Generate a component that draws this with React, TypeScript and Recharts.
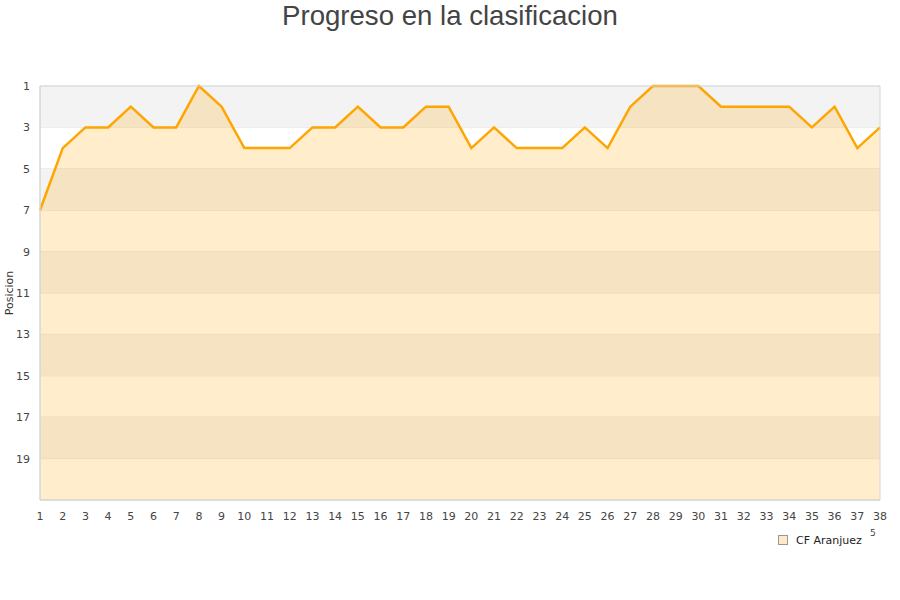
import {
  AreaChart,
  Area,
  XAxis,
  YAxis,
  CartesianGrid,
  ReferenceArea,
  Legend,
} from "recharts";

// Jornadas and league position of the team
const jornadas = [
  1, 2, 3, 4, 5, 6, 7, 8, 9, 10, 11, 12, 13, 14, 15, 16, 17, 18, 19, 20, 21,
  22, 23, 24, 25, 26, 27, 28, 29, 30, 31, 32, 33, 34, 35, 36, 37, 38,
];
const posiciones = [
  7, 4, 3, 3, 2, 3, 3, 1, 2, 4, 4, 4, 3, 3, 2, 3, 3, 2, 2, 4, 3, 4, 4, 4, 3,
  4, 2, 1, 1, 1, 2, 2, 2, 2, 3, 2, 4, 3,
];
const yTicks = [1, 3, 5, 7, 9, 11, 13, 15, 17, 19];
const bandas = [
  [1, 3],
  [5, 7],
  [9, 11],
  [13, 15],
  [17, 19],
];
const equipo = "CF Aranjuez";
const titulo = "Progreso en la clasificacion";

const data = jornadas.map((j, i) => ({ jornada: j, pos: posiciones[i] }));

const TICK = { fontSize: 11, fill: "#444", fontFamily: "DejaVu Sans" };

function LegendBox() {
  return (
    <div
      style={{
        display: "inline-flex",
        alignItems: "center",
        fontFamily: "DejaVu Sans",
        fontSize: 11,
        color: "#222",
        position: "relative",
      }}
    >
      <span
        style={{
          width: 8,
          height: 8,
          background: "#fdebc8",
          border: "1px solid #999",
          marginRight: 8,
          display: "inline-block",
        }}
      />
      {equipo}
      <span
        style={{
          position: "absolute",
          right: -14,
          top: -6,
          fontSize: 9,
          color: "#444",
        }}
      >
        5
      </span>
    </div>
  );
}

export default function App() {
  return (
    <div
      style={{
        position: "absolute",
        left: 0,
        top: 0,
        width: 900,
        height: 600,
        background: "#fff",
      }}
    >
      <div
        style={{
          position: "absolute",
          top: 0,
          width: 900,
          textAlign: "center",
          fontFamily: "Liberation Sans, Arial, sans-serif",
          fontSize: 27.6,
          color: "#444",
          lineHeight: "32px",
        }}
      >
        {titulo}
      </div>
      <AreaChart
        width={900}
        height={600}
        data={data}
        margin={{ top: 86, right: 20, bottom: 54, left: 0 }}
      >
        {bandas.map(([a, b]) => (
          <ReferenceArea
            key={a}
            x1={1}
            x2={38}
            y1={a}
            y2={b}
            fill="#f3f3f3"
            fillOpacity={1}
            ifOverflow="hidden"
          />
        ))}
        <CartesianGrid vertical={false} stroke="#e3e3e3" strokeWidth={1} />
        <XAxis
          dataKey="jornada"
          type="number"
          domain={[1, 38]}
          ticks={jornadas}
          interval={0}
          tick={TICK}
          tickLine={false}
          axisLine={{ stroke: "#d6d6d6" }}
          height={30}
          tickMargin={6}
        />
        <YAxis
          type="number"
          reversed
          domain={[1, 21]}
          ticks={yTicks}
          interval={0}
          tick={TICK}
          tickLine={false}
          axisLine={{ stroke: "#d6d6d6" }}
          width={40}
          tickMargin={4}
          label={{
            value: "Posicion",
            angle: -90,
            position: "insideLeft",
            offset: 9,
            style: { fontSize: 11, fill: "#333", fontFamily: "DejaVu Sans", textAnchor: "middle" },
          }}
        />
        <Area
          type="linear"
          dataKey="pos"
          name={equipo}
          baseValue={21}
          stroke="#ffa500"
          strokeWidth={2.5}
          fill="#ffa500"
          fillOpacity={0.2}
          dot={false}
          activeDot={false}
          isAnimationActive={false}
        />
        <ReferenceArea
          x1={1}
          x2={38}
          y1={1}
          y2={21}
          fill="none"
          stroke="#d6d6d6"
          strokeWidth={1}
        />
        <Legend
          content={() => <LegendBox />}
          wrapperStyle={{ position: "absolute", left: 778, top: 531, width: 110, height: 16 }}
        />
      </AreaChart>
    </div>
  );
}
